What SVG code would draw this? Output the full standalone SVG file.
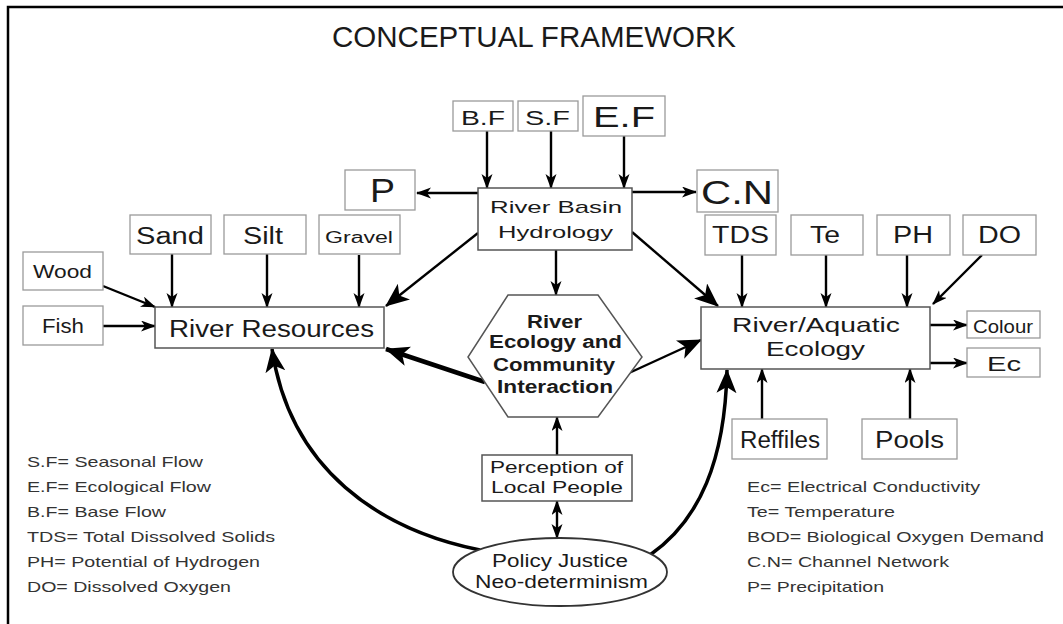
<svg xmlns="http://www.w3.org/2000/svg" width="1063" height="624" viewBox="0 0 1063 624">
<defs>
<style>
.bx{fill:#fff;stroke:#9a9a9a;stroke-width:1.3}
.mb{fill:#fff;stroke:#555;stroke-width:1.5}
.t{font-family:"Liberation Sans",Arial,sans-serif;fill:#1a1a1a}
.b{font-weight:bold}
.lg{font-family:"Liberation Sans",Arial,sans-serif;fill:#333;font-size:15px}
.c{fill:none;stroke:#000;stroke-width:2.4}
.k{fill:none;stroke:#000;stroke-width:4.5}
.cv{fill:none;stroke:#000;stroke-width:3.5}
</style>
<marker id="a" markerUnits="userSpaceOnUse" markerWidth="16" markerHeight="12" refX="14" refY="5.5" orient="auto-start-reverse">
<path d="M0,0 L15,5.5 L0,11 L4,5.5 z" fill="#000"/>
</marker>
<marker id="A" markerUnits="userSpaceOnUse" markerWidth="26" markerHeight="22" refX="23" refY="10" orient="auto">
<path d="M0,0 L24,10 L0,20 L6,10 z" fill="#000"/>
</marker>
</defs>
<rect x="0" y="0" width="1063" height="624" fill="#fff"/>
<path d="M8,624 V7 H1063" fill="none" stroke="#000" stroke-width="2.5"/>
<text class="t" x="332" y="47" font-size="30" textLength="404" lengthAdjust="spacingAndGlyphs">CONCEPTUAL FRAMEWORK</text>

<g id="connectors">
<path class="c" d="M487,131 V188" marker-end="url(#a)"/>
<path class="c" d="M551,131 V188" marker-end="url(#a)"/>
<path class="c" d="M624,136 V188" marker-end="url(#a)"/>
<path class="c" d="M478,193 H417" marker-end="url(#a)"/>
<path class="c" d="M632,192 H696" marker-end="url(#a)"/>
<path class="c" d="M556,250 V295" marker-end="url(#a)"/>
<path class="c" d="M478,233 L386,306" stroke-width="3" marker-end="url(#A)"/>
<path class="c" d="M632,232 L718,306" stroke-width="3" marker-end="url(#A)"/>
<path class="c" d="M172,254 V307" marker-end="url(#a)"/>
<path class="c" d="M267,254 V307" marker-end="url(#a)"/>
<path class="c" d="M359,255 V307" marker-end="url(#a)"/>
<path class="c" d="M103,286 L155,307" marker-end="url(#a)"/>
<path class="c" d="M103,326 H155" marker-end="url(#a)"/>
<path class="c" d="M742,255 V307" marker-end="url(#a)"/>
<path class="c" d="M826,255 V307" marker-end="url(#a)"/>
<path class="c" d="M907,255 V307" marker-end="url(#a)"/>
<path class="c" d="M982,255 L933,304" marker-end="url(#a)"/>
<path class="c" d="M930,325 H967" marker-end="url(#a)"/>
<path class="c" d="M930,363 H967" marker-end="url(#a)"/>
<path class="c" d="M762,419 V369" marker-end="url(#a)"/>
<path class="c" d="M910,419 V369" marker-end="url(#a)"/>
<path class="k" d="M485,382 L386,349" marker-end="url(#A)"/>
<path class="c" d="M629,373 L701,340" stroke-width="3.5" marker-end="url(#A)"/>
<path class="c" d="M557,455 V417" marker-end="url(#a)"/>
<path class="c" d="M557,501 V538" marker-start="url(#a)" marker-end="url(#a)"/>
<path class="cv" d="M480,550 C380,530 290,470 272,349" marker-end="url(#A)"/>
<path class="cv" d="M650,555 C700,520 725,460 727,370" marker-end="url(#A)"/>
</g>

<g id="bf"><rect class="bx" x="453" y="101" width="60" height="30"/><text class="t" x="461" y="125" font-size="21" textLength="44" lengthAdjust="spacingAndGlyphs">B.F</text></g>
<g id="sf"><rect class="bx" x="518" y="101" width="60" height="30"/><text class="t" x="525" y="125" font-size="21" textLength="45" lengthAdjust="spacingAndGlyphs">S.F</text></g>
<g id="ef"><rect class="bx" x="583" y="96" width="82" height="40"/><text class="t" x="593" y="127" font-size="30" textLength="62" lengthAdjust="spacingAndGlyphs">E.F</text></g>
<g id="p"><rect class="bx" x="345" y="170" width="70" height="40"/><text class="t" x="370" y="202" font-size="33" textLength="25" lengthAdjust="spacingAndGlyphs">P</text></g>
<g id="cn"><rect class="bx" x="697" y="170" width="81" height="42"/><text class="t" x="701" y="204" font-size="33" textLength="72" lengthAdjust="spacingAndGlyphs">C.N</text></g>
<g id="rbh"><rect class="mb" x="478" y="188" width="154" height="62"/>
<text class="t" x="490" y="213" font-size="17" textLength="132" lengthAdjust="spacingAndGlyphs">River Basin</text>
<text class="t" x="498" y="238" font-size="17" textLength="115" lengthAdjust="spacingAndGlyphs">Hydrology</text></g>

<g id="sand"><rect class="bx" x="130" y="215" width="81" height="39"/><text class="t" x="136" y="244" font-size="23" textLength="68" lengthAdjust="spacingAndGlyphs">Sand</text></g>
<g id="silt"><rect class="bx" x="224" y="215" width="82" height="39"/><text class="t" x="243" y="244" font-size="23" textLength="40" lengthAdjust="spacingAndGlyphs">Silt</text></g>
<g id="gravel"><rect class="bx" x="319" y="215" width="81" height="39"/><text class="t" x="325" y="243" font-size="16" textLength="68" lengthAdjust="spacingAndGlyphs">Gravel</text></g>
<g id="wood"><rect class="bx" x="23" y="252" width="80" height="38"/><text class="t" x="33" y="278" font-size="18" textLength="59" lengthAdjust="spacingAndGlyphs">Wood</text></g>
<g id="fish"><rect class="bx" x="23" y="306" width="80" height="39"/><text class="t" x="42" y="333" font-size="20" textLength="42" lengthAdjust="spacingAndGlyphs">Fish</text></g>
<g id="rr"><rect class="mb" x="155" y="307" width="229" height="41"/><text class="t" x="169" y="337" font-size="23" textLength="205" lengthAdjust="spacingAndGlyphs">River Resources</text></g>

<g id="tds"><rect class="bx" x="705" y="215" width="71" height="40"/><text class="t" x="712" y="243" font-size="23" textLength="57" lengthAdjust="spacingAndGlyphs">TDS</text></g>
<g id="te"><rect class="bx" x="791" y="215" width="72" height="40"/><text class="t" x="810" y="243" font-size="23" textLength="30" lengthAdjust="spacingAndGlyphs">Te</text></g>
<g id="ph"><rect class="bx" x="877" y="215" width="73" height="40"/><text class="t" x="893" y="243" font-size="23" textLength="40" lengthAdjust="spacingAndGlyphs">PH</text></g>
<g id="do"><rect class="bx" x="963" y="215" width="73" height="40"/><text class="t" x="978" y="243" font-size="23" textLength="43" lengthAdjust="spacingAndGlyphs">DO</text></g>
<g id="rae"><rect class="mb" x="701" y="307" width="229" height="62"/>
<text class="t" x="732" y="332" font-size="21" textLength="168" lengthAdjust="spacingAndGlyphs">River/Aquatic</text>
<text class="t" x="766" y="356" font-size="21" textLength="99" lengthAdjust="spacingAndGlyphs">Ecology</text></g>
<g id="colour"><rect class="bx" x="967" y="311" width="73" height="27"/><text class="t" x="973" y="333" font-size="19" textLength="60" lengthAdjust="spacingAndGlyphs">Colour</text></g>
<g id="ec"><rect class="bx" x="967" y="348" width="73" height="29"/><text class="t" x="987" y="371" font-size="21" textLength="34" lengthAdjust="spacingAndGlyphs">Ec</text></g>
<g id="reffiles"><rect class="bx" x="732" y="419" width="95" height="40"/><text class="t" x="740" y="448" font-size="23" textLength="80" lengthAdjust="spacingAndGlyphs">Reffiles</text></g>
<g id="pools"><rect class="bx" x="862" y="419" width="95" height="40"/><text class="t" x="875" y="448" font-size="23" textLength="69" lengthAdjust="spacingAndGlyphs">Pools</text></g>

<g id="hex"><polygon points="508,295 598,295 642,357 598,417 508,417 468,357" fill="#fff" stroke="#555" stroke-width="1.5"/>
<text class="t b" x="527" y="328" font-size="18" textLength="55" lengthAdjust="spacingAndGlyphs">River</text>
<text class="t b" x="489" y="348" font-size="18" textLength="133" lengthAdjust="spacingAndGlyphs">Ecology and</text>
<text class="t b" x="493" y="371" font-size="18" textLength="122" lengthAdjust="spacingAndGlyphs">Community</text>
<text class="t b" x="497" y="393" font-size="18" textLength="116" lengthAdjust="spacingAndGlyphs">Interaction</text></g>

<g id="perception"><rect class="mb" x="482" y="455" width="150" height="46"/>
<text class="t" x="490" y="473" font-size="17" textLength="133" lengthAdjust="spacingAndGlyphs">Perception of</text>
<text class="t" x="491" y="493" font-size="17" textLength="132" lengthAdjust="spacingAndGlyphs">Local People</text></g>

<g id="policy"><ellipse cx="560" cy="572" rx="107" ry="34" fill="#fff" stroke="#333" stroke-width="1.8"/>
<text class="t" x="492" y="567" font-size="18" textLength="136" lengthAdjust="spacingAndGlyphs">Policy Justice</text>
<text class="t" x="475" y="588" font-size="18" textLength="173" lengthAdjust="spacingAndGlyphs">Neo-determinism</text></g>

<g id="legend-left">
<text class="lg" x="27" y="467" textLength="176" lengthAdjust="spacingAndGlyphs">S.F= Seasonal Flow</text>
<text class="lg" x="27" y="492" textLength="184" lengthAdjust="spacingAndGlyphs">E.F= Ecological Flow</text>
<text class="lg" x="27" y="517" textLength="139" lengthAdjust="spacingAndGlyphs">B.F= Base Flow</text>
<text class="lg" x="27" y="542" textLength="248" lengthAdjust="spacingAndGlyphs">TDS= Total Dissolved Solids</text>
<text class="lg" x="27" y="567" textLength="233" lengthAdjust="spacingAndGlyphs">PH= Potential of Hydrogen</text>
<text class="lg" x="27" y="592" textLength="204" lengthAdjust="spacingAndGlyphs">DO= Dissolved Oxygen</text>
</g>
<g id="legend-right">
<text class="lg" x="747" y="492" textLength="233" lengthAdjust="spacingAndGlyphs">Ec= Electrical Conductivity</text>
<text class="lg" x="747" y="517" textLength="148" lengthAdjust="spacingAndGlyphs">Te= Temperature</text>
<text class="lg" x="747" y="542" textLength="297" lengthAdjust="spacingAndGlyphs">BOD= Biological Oxygen Demand</text>
<text class="lg" x="747" y="567" textLength="202" lengthAdjust="spacingAndGlyphs">C.N= Channel Network</text>
<text class="lg" x="747" y="592" textLength="137" lengthAdjust="spacingAndGlyphs">P= Precipitation</text>
</g>
</svg>
